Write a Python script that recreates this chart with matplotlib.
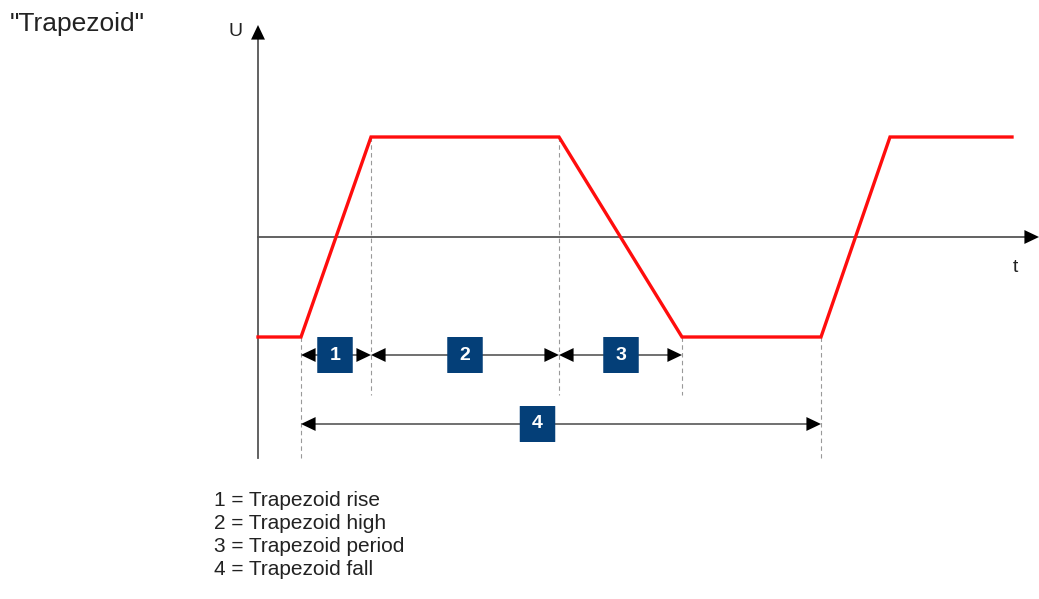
import matplotlib
matplotlib.use("Agg")
import matplotlib.pyplot as plt
from matplotlib.patches import FancyBboxPatch

plt.rcParams['font.family'] = ['Liberation Sans', 'DejaVu Sans']

# Waveform (time units, voltage units)
wave_t = [0.0, 4.3, 11.3, 30.1, 42.4, 56.3, 63.2, 75.4]
wave_u = [-1.0, -1.0, 1.0, 1.0, -1.0, -1.0, 1.0, 1.0]

# Interval markers: label, start, end, label position, row level
seg_labels = ["1", "2", "3", "4"]
seg_start = [4.3, 11.3, 30.1, 4.3]
seg_end = [11.3, 30.1, 42.4, 56.3]
seg_label_t = [7.7, 20.7, 36.3, 27.95]
seg_level = [-1.18, -1.18, -1.18, -1.87]

# Dashed guide lines: time, top, bottom
guide_t = [4.3, 11.3, 30.1, 42.4, 56.3]
guide_top = [-1.0, 1.0, 1.0, -1.0, -1.0]
guide_bot = [-2.21, -1.58, -1.58, -1.58, -2.21]

legend_lines = ["1 = Trapezoid rise", "2 = Trapezoid high",
                "3 = Trapezoid period", "4 = Trapezoid fall"]
title_text = '"Trapezoid"'

fig = plt.figure(figsize=(10.39, 5.99), dpi=100)
ax = fig.add_axes([0, 0, 1, 1])
ax.set_xlim(-25.8, 78.1)
ax.set_ylim(-3.62, 2.37)
ax.axis('off')

axis_col = '#555555'
head = '-|>,head_length=1.05,head_width=0.5'
# axes with arrows
ax.plot([0, 0], [-2.21, 2.0], color=axis_col, lw=1.3, zorder=2)
ax.annotate('', xy=(0, 2.12), xytext=(0, 1.9),
            arrowprops=dict(arrowstyle=head, color='black', lw=0,
                            shrinkA=0, shrinkB=0))
ax.plot([0, 77.0], [0, 0], color=axis_col, lw=1.3, zorder=2)
ax.annotate('', xy=(78.1, 0), xytext=(76.0, 0),
            arrowprops=dict(arrowstyle=head, color='black', lw=0,
                            shrinkA=0, shrinkB=0))
ax.text(-2.3, 2.05, 'U', fontsize=14, ha='center', va='center', color='#222222')
ax.text(75.7, -0.31, 't', fontsize=14, ha='center', va='center', color='#222222')

# guides
for gt, top, bot in zip(guide_t, guide_top, guide_bot):
    ax.plot([gt, gt], [top, bot], ls=(0, (4, 3)), color='#999999', lw=0.8, zorder=1)

# waveform
ax.plot(wave_t, wave_u, color='#ff0d0d', lw=2.4, solid_joinstyle='miter', zorder=3)

# interval arrows with boxes
for lab, s, e, lt, lv in zip(seg_labels, seg_start, seg_end, seg_label_t, seg_level):
    ax.plot([s + 1.0, e - 1.0], [lv, lv], color='#707070', lw=1.4, zorder=2)
    ax.annotate('', xy=(e, lv), xytext=(s, lv),
                arrowprops=dict(arrowstyle='<|-|>,head_length=1.05,head_width=0.5',
                                color='black', lw=0, shrinkA=0, shrinkB=0), zorder=2)
    w, h = 3.55, 0.36
    box = FancyBboxPatch((lt - w / 2, lv - h / 2), w, h,
                         boxstyle='round,pad=0,rounding_size=0.03',
                         mutation_aspect=0.1,
                         fc='#043f78', ec='none', zorder=4)
    ax.add_patch(box)
    ax.text(lt, lv, lab, color='white', fontsize=14, fontweight='bold',
            ha='center', va='center', zorder=5)

# title
fig.text(10 / 1039, 1 - 24 / 599, title_text, fontsize=19, ha='left', va='center',
         color='#222222')

# legend text
for i, line in enumerate(legend_lines):
    fig.text(214 / 1039, 1 - (500 + 23.3 * i) / 599, line, fontsize=15,
             ha='left', va='center', color='#222222')

fig.savefig('out.png', dpi=100)
